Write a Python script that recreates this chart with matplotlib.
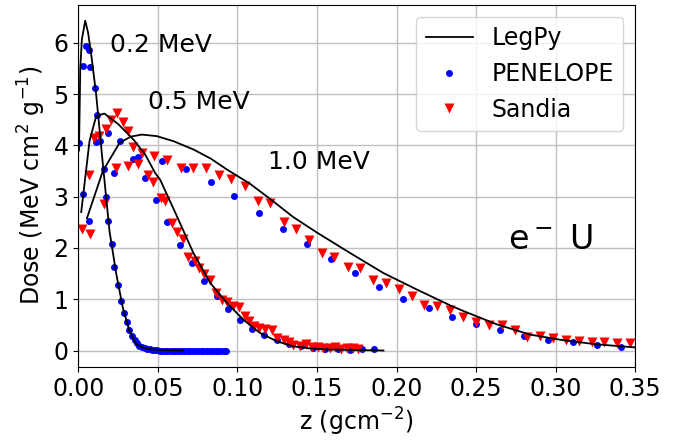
import matplotlib

matplotlib.use("Agg")
import matplotlib.pyplot as plt

# LegPy depth-dose curves (z in g/cm^2, dose in MeV cm^2 g^-1)
LEGPY_02_Z = [0.0005, 0.0013, 0.0023, 0.0044, 0.0062, 0.0082, 0.0113, 0.0155, 0.0197,
              0.0240, 0.0280, 0.0322, 0.0364, 0.0430, 0.0500, 0.0660]
LEGPY_02_D = [3.9, 5.5, 6.06, 6.43, 6.2, 5.77, 4.99, 3.63, 2.32,
              1.48, 0.84, 0.38, 0.12, 0.03, 0.01, 0.0]

LEGPY_05_Z = [0.0019, 0.0071, 0.0113, 0.0165, 0.0253, 0.0348, 0.0421, 0.0484, 0.0515,
              0.0620, 0.0724, 0.0829, 0.0934, 0.1038, 0.1143, 0.1248, 0.1352, 0.1457,
              0.1560, 0.1918]
LEGPY_05_D = [2.7, 4.08, 4.57, 4.62, 4.41, 4.11, 3.82, 3.46, 3.33,
              2.62, 1.90, 1.32, 0.93, 0.60, 0.34, 0.18, 0.08, 0.04,
              0.02, 0.0]

LEGPY_10_Z = [0.0055, 0.0155, 0.0260, 0.0330, 0.0400, 0.0494, 0.0600, 0.0724, 0.0834,
              0.0934, 0.1080, 0.1200, 0.1352, 0.1500, 0.1709, 0.1918, 0.2127, 0.2337,
              0.2420, 0.2630, 0.2839, 0.3048, 0.3258, 0.3500]
LEGPY_10_D = [2.58, 3.50, 4.05, 4.17, 4.21, 4.18, 4.08, 3.92, 3.74,
              3.53, 3.25, 2.97, 2.60, 2.30, 1.90, 1.51, 1.19, 0.88,
              0.77, 0.51, 0.31, 0.20, 0.12, 0.06]

# PENELOPE
PEN_02_Z = [0.0003, 0.0030, 0.0046, 0.0065, 0.0077, 0.0103, 0.0117, 0.0135, 0.0159,
            0.0176, 0.0190, 0.0212, 0.0228, 0.0249, 0.0270, 0.0289, 0.0306, 0.0322,
            0.0337, 0.0354, 0.0369, 0.0385, 0.0400, 0.0417, 0.0433, 0.0449, 0.0465,
            0.0481, 0.0497, 0.0513, 0.0529, 0.0545, 0.0561, 0.0577, 0.0593, 0.0609,
            0.0625, 0.0641, 0.0657, 0.0673, 0.0689, 0.0705, 0.0721, 0.0737, 0.0753,
            0.0769, 0.0785, 0.0801, 0.0817, 0.0833, 0.0849, 0.0865, 0.0881, 0.0897,
            0.0913, 0.0929]
PEN_02_D = [4.05, 5.54, 5.93, 5.85, 5.52, 5.11, 4.60, 4.08, 3.53,
            3.00, 2.53, 2.07, 1.63, 1.27, 0.96, 0.73, 0.55, 0.40,
            0.28, 0.20, 0.14, 0.09, 0.06, 0.04, 0.03, 0.02, 0.01,
            0.01, 0.01, 0.0, 0.0, 0.0, 0.0, 0.0, 0.0, 0.0,
            0.0, 0.0, 0.0, 0.0, 0.0, 0.0, 0.0, 0.0, 0.0,
            0.0, 0.0, 0.0, 0.0, 0.0, 0.0, 0.0, 0.0, 0.0,
            0.0, 0.0]

PEN_05_Z = [0.0033, 0.0110, 0.0186, 0.0260, 0.0343, 0.0417, 0.0490, 0.0561, 0.0641,
            0.0718, 0.0791, 0.0871, 0.0944, 0.1018, 0.1095, 0.1170, 0.1248, 0.1324,
            0.1400, 0.1476, 0.1550, 0.1630, 0.1710, 0.1780, 0.1860]
PEN_05_D = [3.05, 4.06, 4.24, 4.08, 3.74, 3.37, 2.94, 2.50, 2.05,
            1.70, 1.36, 1.07, 0.80, 0.59, 0.42, 0.30, 0.20, 0.13,
            0.08, 0.05, 0.03, 0.02, 0.01, 0.02, 0.02]

PEN_10_Z = [0.0071, 0.0222, 0.0375, 0.0526, 0.0678, 0.0833, 0.0982, 0.1135, 0.1286,
            0.1440, 0.1589, 0.1740, 0.1893, 0.2043, 0.2205, 0.2347, 0.2500, 0.2651,
            0.2804, 0.2954, 0.3107, 0.3258, 0.3410]
PEN_10_D = [2.52, 3.46, 3.78, 3.69, 3.53, 3.29, 3.01, 2.68, 2.37,
            2.07, 1.79, 1.51, 1.24, 1.01, 0.82, 0.65, 0.51, 0.40,
            0.29, 0.21, 0.16, 0.10, 0.07]

# Sandia
SAN_05_Z = [0.0065, 0.0100, 0.0128, 0.0172, 0.0203, 0.0241, 0.0279, 0.0312, 0.0346,
            0.0400, 0.0440, 0.0473, 0.0520, 0.0547, 0.0589, 0.0620, 0.0658, 0.0693,
            0.0731, 0.0762, 0.0793, 0.0829, 0.0867, 0.0903, 0.0934, 0.0972, 0.1011,
            0.1045, 0.1076, 0.1106, 0.1139, 0.1175, 0.1216, 0.1248, 0.1290, 0.1322,
            0.1350, 0.1394, 0.1432, 0.1470, 0.1505, 0.1540, 0.1580, 0.1615, 0.1650,
            0.1688, 0.1725, 0.1760]
SAN_05_D = [3.42, 4.15, 4.18, 4.32, 4.49, 4.63, 4.46, 4.28, 3.96,
            3.86, 3.43, 3.29, 2.98, 2.91, 2.49, 2.31, 2.18, 1.83,
            1.74, 1.61, 1.50, 1.38, 1.12, 0.99, 0.94, 0.86, 0.85,
            0.67, 0.58, 0.47, 0.44, 0.42, 0.40, 0.25, 0.21, 0.16,
            0.10, 0.09, 0.12, 0.07, 0.06, 0.05, 0.04, 0.06, 0.03,
            0.04, 0.05, 0.03]

SAN_10_Z = [0.0025, 0.0077, 0.0159, 0.0238, 0.0314, 0.0377, 0.0477, 0.0557, 0.0645,
            0.0723, 0.0804, 0.0886, 0.0963, 0.1047, 0.1128, 0.1208, 0.1290, 0.1368,
            0.1451, 0.1532, 0.1610, 0.1694, 0.1771, 0.1855, 0.1935, 0.2015, 0.2096,
            0.2175, 0.2257, 0.2337, 0.2416, 0.2500, 0.2582, 0.2661, 0.2745, 0.2822,
            0.2902, 0.2982, 0.3065, 0.3145, 0.3227, 0.3306, 0.3388, 0.3467]
SAN_10_D = [2.36, 2.28, 2.86, 3.56, 3.60, 3.63, 3.79, 3.71, 3.56,
            3.56, 3.56, 3.42, 3.34, 3.21, 2.91, 2.88, 2.51, 2.37,
            2.15, 1.90, 1.82, 1.62, 1.60, 1.38, 1.32, 1.20, 1.07,
            0.88, 0.86, 0.79, 0.65, 0.55, 0.49, 0.49, 0.40, 0.27,
            0.29, 0.25, 0.21, 0.18, 0.16, 0.16, 0.15, 0.15]

ENERGY_LABELS = [("0.2 MeV", 0.020, 5.96), ("0.5 MeV", 0.044, 4.85), ("1.0 MeV", 0.119, 3.68)]

fig = plt.figure(figsize=(6.92, 4.41), dpi=100)
ax = fig.add_axes([0.113, 0.168, 0.805, 0.821])

legpy = [(LEGPY_02_Z, LEGPY_02_D), (LEGPY_05_Z, LEGPY_05_D), (LEGPY_10_Z, LEGPY_10_D)]
pen = [(PEN_02_Z, PEN_02_D), (PEN_05_Z, PEN_05_D), (PEN_10_Z, PEN_10_D)]
san = [(SAN_05_Z, SAN_05_D), (SAN_10_Z, SAN_10_D)]

for i, (z, d) in enumerate(legpy):
    ax.plot(z, d, color="black", lw=1.3, label="LegPy" if i == 0 else None, zorder=3)
for i, (z, d) in enumerate(pen):
    ax.plot(z, d, "o", color="blue", ms=5, mec="none",
            label="PENELOPE" if i == 0 else None, zorder=2)
for i, (z, d) in enumerate(san):
    ax.plot(z, d, "v", color="red", ms=7, mec="none",
            label="Sandia" if i == 0 else None, zorder=2)

for text, x, y in ENERGY_LABELS:
    ax.text(x, y, text, fontsize=18, va="center", ha="left")
ax.text(0.270, 2.16, "e$^-$ U", fontsize=24, va="center", ha="left")

ax.set_xlim(0, 0.35)
ax.set_ylim(-0.32, 6.74)
ax.set_xticks([0.0, 0.05, 0.10, 0.15, 0.20, 0.25, 0.30, 0.35])
ax.set_xticklabels(["0.00", "0.05", "0.10", "0.15", "0.20", "0.25", "0.30", "0.35"])
ax.set_yticks(range(0, 7))
ax.tick_params(labelsize=17)
ax.grid(True, color="#c0c0c0", lw=1.0)
ax.set_axisbelow(True)
ax.set_xlabel("z (gcm$^{-2}$)", fontsize=17)
ax.set_ylabel("Dose (MeV cm$^2$ g$^{-1}$)", fontsize=17)
ax.legend(loc="upper right", fontsize=17)

fig.savefig("out.png", dpi=100)
